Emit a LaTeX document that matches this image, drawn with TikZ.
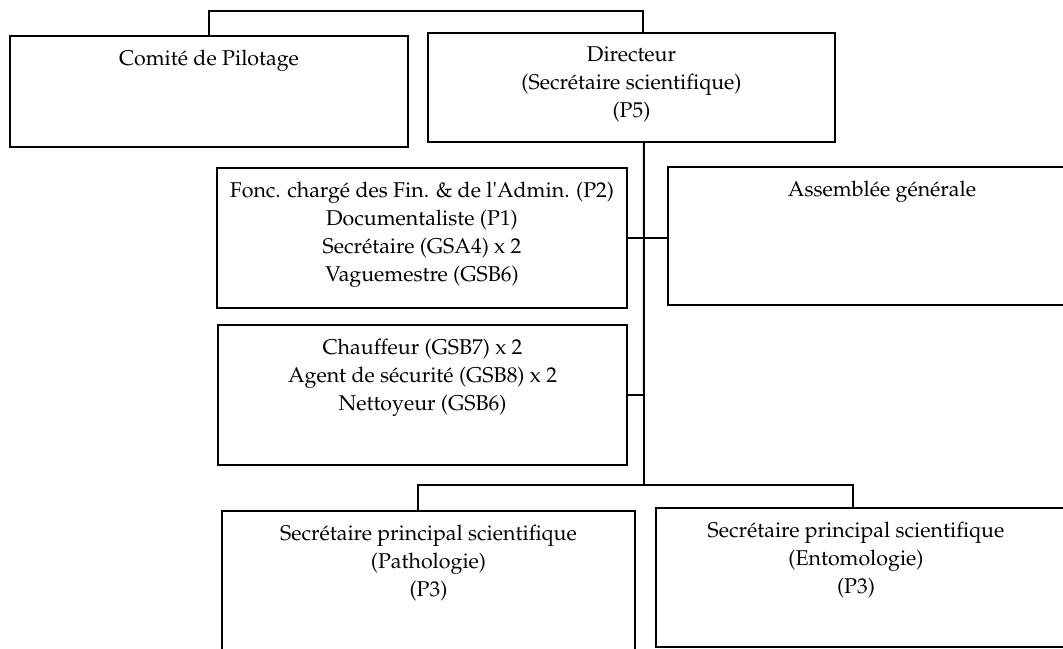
\documentclass[tikz,border=0pt]{standalone}
\usepackage[T1]{fontenc}
\usepackage{textcomp}
\usepackage{mathpazo}
\usetikzlibrary{positioning,fit}

\begin{document}
\begin{tikzpicture}[x=0.025cm,y=-0.025cm,line width=1.4pt,
          node distance=0.34cm,
          box/.style={draw,inner sep=0pt,line width=1.4pt},
          lbl/.style={align=center,inner sep=0pt,
                      font=\fontsize{15.2}{19.9}\selectfont}]
        \useasboundingbox (0,0) rectangle (1063,649);
        % boxes
        \node[box,fit={(10,36) (408,147)}] (comite) {};
        \node[box,fit={(428,33) (835,142)}] (dir) {};
        \node[box,fit={(217,168) (627,308)}] (admin) {};
        \node[box,fit={(668,167) (1080,305)}] (ag) {};
        \node[box,fit={(218,325) (627,465)}] (appui) {};
        \node[box,fit={(222,511) (635,665)}] (patho) {};
        \node[box,fit={(656,508) (1080,647)}] (ento) {};
        % texts
        \node[lbl,below=of comite.north] {Comité de Pilotage};
        \node[lbl,below=of dir.north] {Directeur\\(Secrétaire scientifique)\\(P5)};
        \node[lbl,below=of admin.north] {Fonc. chargé des Fin. \& de l\textquotesingle Admin. (P2)\\
          Documentaliste (P1)\\Secrétaire (GSA4) x 2\\Vaguemestre (GSB6)};
        \node[lbl,below=of ag.north,xshift=0.2cm] {Assemblée générale};
        \node[lbl,below=of appui.north] {Chauffeur (GSB7) x 2\\
          Agent de sécurité (GSB8) x 2\\Nettoyeur (GSB6)};
        \node[lbl,below=of patho.north] {Secrétaire principal scientifique\\(Pathologie)\\(P3)};
        \node[lbl,below=of ento.north,xshift=-0.3cm] {Secrétaire principal scientifique\\(Entomologie)\\(P3)};
        % connectors
        \coordinate (bus) at (644,485);
        \draw (comite.north) -- ++(0,-24) -| ([xshift=0.29cm]dir.north);
        \draw ([xshift=0.31cm]dir.south) -- (bus);
        \draw (admin.east) -- (admin.east -| ag.west);
        \draw (appui.east) -- (appui.east -| bus);
        \draw ([xshift=-0.26cm]patho.north) |- (bus) -| ([xshift=-0.38cm]ento.north);
      \end{tikzpicture}
\end{document}
